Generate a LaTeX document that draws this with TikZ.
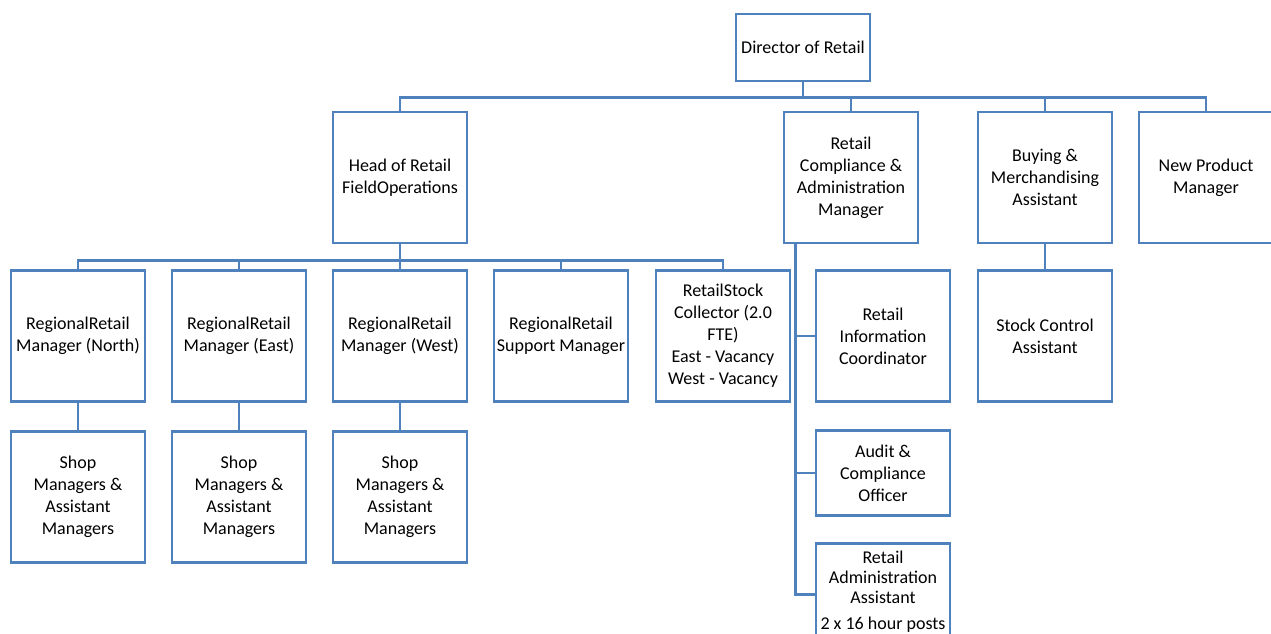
\documentclass[tikz,border=0pt]{standalone}
\usepackage{fontspec}
\setmainfont{Carlito}
\definecolor{orgblue}{RGB}{79,129,189}
\tikzset{
  post/.style={draw=orgblue, line width=2.7pt, minimum width=134pt, minimum height=131pt,
    inner sep=0pt, align=center, font=\fontsize{18}{22}\selectfont},
  link/.style={draw=orgblue, line width=2.7pt}
}

\begin{document}
\begin{tikzpicture}[x=1pt,y=-1pt]
  \useasboundingbox (0,0) rectangle (1271,633);
  \node[post, minimum height=67pt] (dir) at (803,47.5) {Director of Retail};
  \node[post] (head) at (400,177.5) {Head of Retail\\FieldOperations};
  \node[post] (comp) at (851,177.5) {Retail\\Compliance \&\\Administration\\Manager};
  \node[post] (buy) at (1045,177.5) {Buying \&\\Merchandising\\Assistant};
  \node[post] (newp) at (1206,177.5) {New Product\\Manager};
  \node[post] (north) at (78,336) {RegionalRetail\\Manager (North)};
  \node[post] (east) at (239,336) {RegionalRetail\\Manager (East)};
  \node[post] (west) at (400,336) {RegionalRetail\\Manager (West)};
  \node[post] (supp) at (561,336) {RegionalRetail\\Support Manager};
  \node[post] (stock) at (723,336) {RetailStock\\Collector (2.0\\FTE)\\East - Vacancy\\West - Vacancy};
  \node[post] (info) at (883,336) {Retail\\Information\\Coordinator};
  \node[post] (stockc) at (1045,336) {Stock Control\\Assistant};
  \node[post] (shopN) at (78,497) {Shop\\Managers \&\\Assistant\\Managers};
  \node[post] (shopE) at (239,497) {Shop\\Managers \&\\Assistant\\Managers};
  \node[post] (shopW) at (400,497) {Shop\\Managers \&\\Assistant\\Managers};
  \node[post, minimum height=85pt] (audit) at (883,473) {Audit \&\\Compliance\\Officer};
  \node[post, minimum height=96pt, anchor=north] (admin) at (883,542)
    {Retail\\[-2pt]Administration\\[-2pt]Assistant\\[4pt]2 x 16 hour posts};
  \draw[link] (dir.south) -- ++(0,15) coordinate (busA);
  \draw[link] (head.north) |- (busA) -| (newp.north);
  \draw[link] (busA) -| (comp.north);
  \draw[link] (busA) -| (buy.north);
  \draw[link] (head.south) -- ++(0,16) coordinate (busB);
  \draw[link] (north.north) |- (busB) -| (stock.north);
  \draw[link] (busB) -| (east.north);
  \draw[link] (busB) -| (supp.north);
  \draw[link] (busB) -- (west.north);
  \draw[link] (north) -- (shopN);
  \draw[link] (east) -- (shopE);
  \draw[link] (west) -- (shopW);
  \draw[link] (buy) -- (stockc);
  \draw[link] ([xshift=13pt]comp.south west) |- ([yshift=-3pt]admin.west);
  \draw[link] ([xshift=13pt]comp.south west) |- (info.west);
  \draw[link] ([xshift=13pt]comp.south west) |- (audit.west);
\end{tikzpicture}
\end{document}
